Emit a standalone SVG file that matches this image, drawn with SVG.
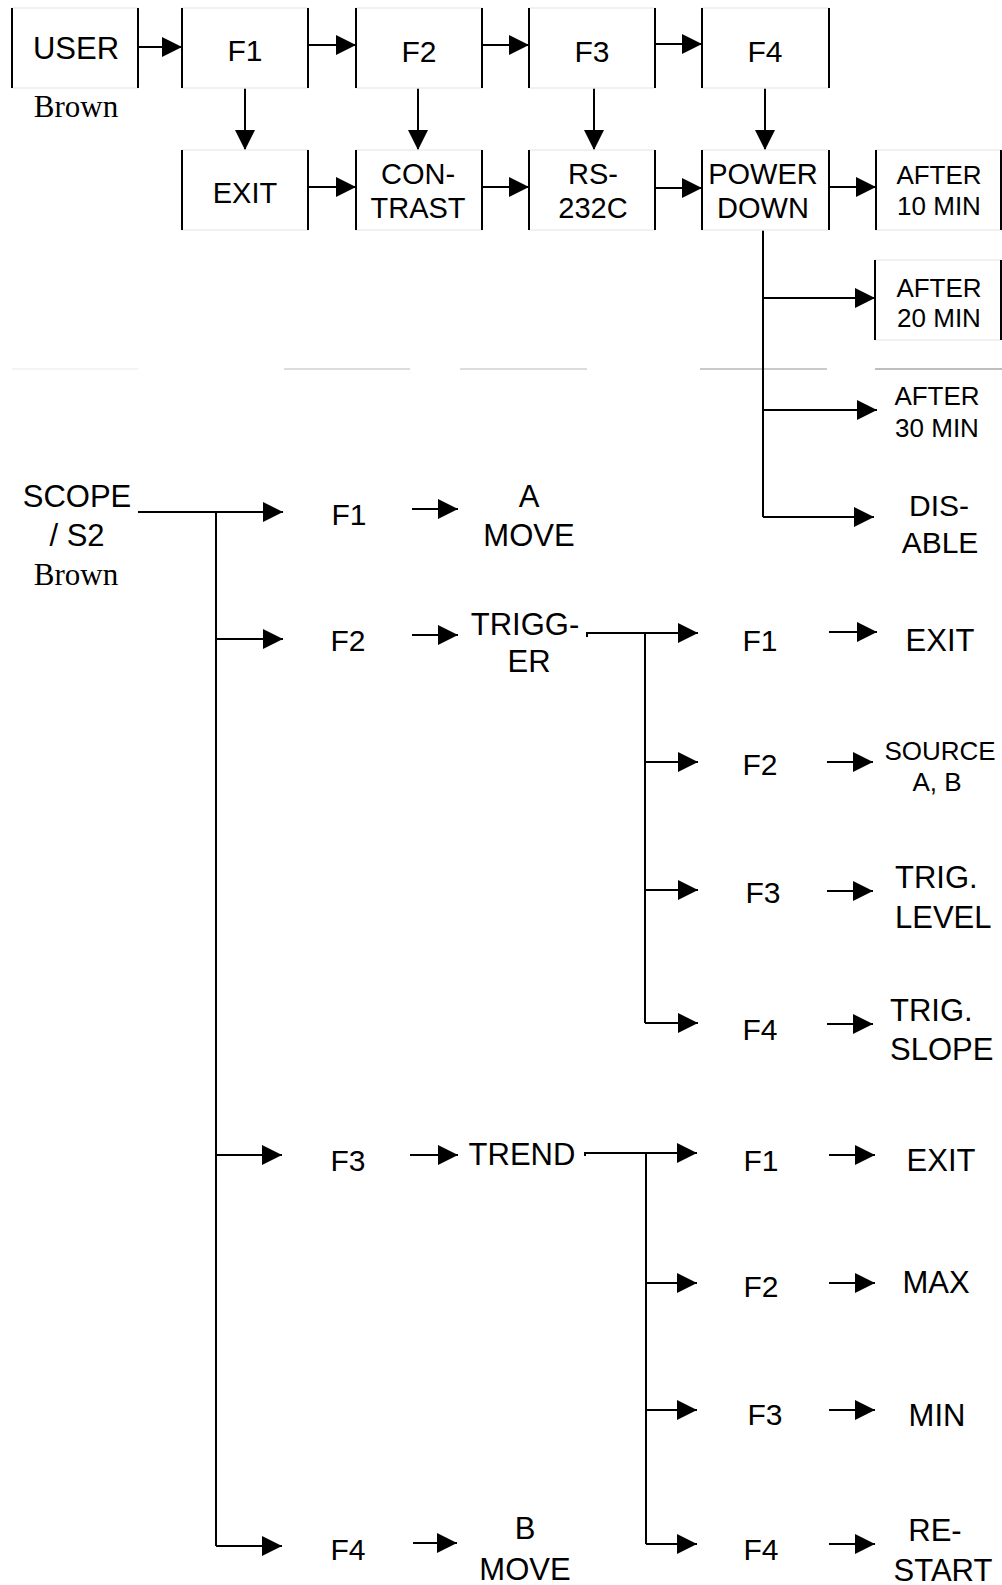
<svg xmlns="http://www.w3.org/2000/svg" width="1002" height="1585" viewBox="0 0 1002 1585">
<style>
.bg{fill:#fff}
.side{stroke:#000;stroke-width:2}
.edge{stroke:#ececec;stroke-width:1.5}
.gl{stroke:#d0d0d0;stroke-width:1.5}
.c{stroke:#000;stroke-width:2;fill:none}
.t{font-family:"Liberation Sans",Arial,sans-serif;text-anchor:middle;fill:#000}
.s{text-anchor:start}
.f30{font-size:30px}
.f29{font-size:29px}
.f31{font-size:31px}
.f26{font-size:26px}
.br{font-family:"Liberation Serif","Times New Roman",serif;font-size:31px;text-anchor:middle;fill:#000}
</style>
<defs>
<marker id="ah" markerUnits="userSpaceOnUse" markerWidth="20" markerHeight="20" refX="20" refY="10" orient="auto">
<path d="M0,0 L20,10 L0,20 z" fill="#000"/>
</marker>
</defs>
<rect class="bg" x="0" y="0" width="1002" height="1585"/>

<g id="grid-lines">
<line x1="12" y1="369" x2="138" y2="369" stroke="#f0f0f0" stroke-width="1.5"/>
<line class="gl" x1="284" y1="369" x2="410" y2="369"/>
<line class="gl" x1="460" y1="369" x2="587" y2="369"/>
<line x1="700" y1="369" x2="827" y2="369" stroke="#b8b8b8" stroke-width="1.5"/>
<line x1="875" y1="369" x2="1002" y2="369" stroke="#a8a8a8" stroke-width="1.5"/>
</g>

<g id="connectors">
<path class="c" marker-end="url(#ah)" d="M138,47 H182"/>
<path class="c" marker-end="url(#ah)" d="M308,45 H356"/>
<path class="c" marker-end="url(#ah)" d="M482,45 H529"/>
<path class="c" marker-end="url(#ah)" d="M655,44 H702"/>
<path class="c" marker-end="url(#ah)" d="M245,88 V150"/>
<path class="c" marker-end="url(#ah)" d="M418,88 V150"/>
<path class="c" marker-end="url(#ah)" d="M594,88 V150"/>
<path class="c" marker-end="url(#ah)" d="M765,88 V150"/>
<path class="c" marker-end="url(#ah)" d="M308,187 H356"/>
<path class="c" marker-end="url(#ah)" d="M482,187 H529"/>
<path class="c" marker-end="url(#ah)" d="M655,188 H702"/>
<path class="c" marker-end="url(#ah)" d="M829,187 H876"/>
<path class="c" d="M763,230 V517"/>
<path class="c" marker-end="url(#ah)" d="M763,298 H875"/>
<path class="c" marker-end="url(#ah)" d="M763,410 H877"/>
<path class="c" marker-end="url(#ah)" d="M763,517 H874"/>

<path class="c" marker-end="url(#ah)" d="M138,512 H283"/>
<path class="c" d="M216,512 V1546"/>
<path class="c" marker-end="url(#ah)" d="M216,639 H283"/>
<path class="c" marker-end="url(#ah)" d="M216,1155 H282"/>
<path class="c" marker-end="url(#ah)" d="M216,1546 H282"/>
<path class="c" marker-end="url(#ah)" d="M412,509 H458"/>
<path class="c" marker-end="url(#ah)" d="M412,635 H458"/>
<path class="c" marker-end="url(#ah)" d="M410,1155 H458"/>
<path class="c" marker-end="url(#ah)" d="M413,1543 H457"/>

<path class="c" marker-end="url(#ah)" d="M587,637 V633 H698"/>
<path class="c" d="M645,633 V1023"/>
<path class="c" marker-end="url(#ah)" d="M645,762 H698"/>
<path class="c" marker-end="url(#ah)" d="M645,890 H698"/>
<path class="c" marker-end="url(#ah)" d="M645,1023 H698"/>
<path class="c" marker-end="url(#ah)" d="M829,632 H877"/>
<path class="c" marker-end="url(#ah)" d="M827,762 H873"/>
<path class="c" marker-end="url(#ah)" d="M827,891 H873"/>
<path class="c" marker-end="url(#ah)" d="M827,1024 H873"/>

<path class="c" marker-end="url(#ah)" d="M585,1156 V1153 H697"/>
<path class="c" d="M646,1153 V1544"/>
<path class="c" marker-end="url(#ah)" d="M646,1283 H697"/>
<path class="c" marker-end="url(#ah)" d="M646,1410 H697"/>
<path class="c" marker-end="url(#ah)" d="M646,1544 H697"/>
<path class="c" marker-end="url(#ah)" d="M829,1155 H875"/>
<path class="c" marker-end="url(#ah)" d="M829,1283 H875"/>
<path class="c" marker-end="url(#ah)" d="M829,1410 H875"/>
<path class="c" marker-end="url(#ah)" d="M829,1544 H875"/>
</g>

<g id="user">
<line class="edge" x1="12" y1="8" x2="138" y2="8"/><line class="edge" x1="12" y1="88" x2="138" y2="88"/>
<line class="side" x1="12" y1="8" x2="12" y2="88"/><line class="side" x1="138" y1="8" x2="138" y2="88"/>
<text class="t f31" x="76" y="59">USER</text>
<text class="br" x="76" y="117">Brown</text>
</g>
<g id="top-f1">
<line class="edge" x1="182" y1="8" x2="308" y2="8"/><line class="edge" x1="182" y1="88" x2="308" y2="88"/>
<line class="side" x1="182" y1="8" x2="182" y2="88"/><line class="side" x1="308" y1="8" x2="308" y2="88"/>
<text class="t f30" x="245" y="61">F1</text>
</g>
<g id="top-f2">
<line class="edge" x1="356" y1="8" x2="482" y2="8"/><line class="edge" x1="356" y1="88" x2="482" y2="88"/>
<line class="side" x1="356" y1="8" x2="356" y2="88"/><line class="side" x1="482" y1="8" x2="482" y2="88"/>
<text class="t f30" x="419" y="62">F2</text>
</g>
<g id="top-f3">
<line class="edge" x1="529" y1="8" x2="655" y2="8"/><line class="edge" x1="529" y1="88" x2="655" y2="88"/>
<line class="side" x1="529" y1="8" x2="529" y2="88"/><line class="side" x1="655" y1="8" x2="655" y2="88"/>
<text class="t f30" x="592" y="62">F3</text>
</g>
<g id="top-f4">
<line class="edge" x1="702" y1="8" x2="829" y2="8"/><line class="edge" x1="702" y1="88" x2="829" y2="88"/>
<line class="side" x1="702" y1="8" x2="702" y2="88"/><line class="side" x1="829" y1="8" x2="829" y2="88"/>
<text class="t f30" x="765" y="62">F4</text>
</g>
<g id="exit-box">
<line class="edge" x1="182" y1="150" x2="308" y2="150"/><line class="edge" x1="182" y1="230" x2="308" y2="230"/>
<line class="side" x1="182" y1="150" x2="182" y2="230"/><line class="side" x1="308" y1="150" x2="308" y2="230"/>
<text class="t f29" x="245" y="203">EXIT</text>
</g>
<g id="contrast">
<line class="edge" x1="356" y1="150" x2="482" y2="150"/><line class="edge" x1="356" y1="230" x2="482" y2="230"/>
<line class="side" x1="356" y1="150" x2="356" y2="230"/><line class="side" x1="482" y1="150" x2="482" y2="230"/>
<text class="t f29" x="418" y="184">CON-</text>
<text class="t f29" x="418" y="218">TRAST</text>
</g>
<g id="rs232c">
<line class="edge" x1="529" y1="150" x2="655" y2="150"/><line class="edge" x1="529" y1="230" x2="655" y2="230"/>
<line class="side" x1="529" y1="150" x2="529" y2="230"/><line class="side" x1="655" y1="150" x2="655" y2="230"/>
<text class="t f29" x="593" y="184">RS-</text>
<text class="t f29" x="593" y="218">232C</text>
</g>
<g id="power-down">
<line class="edge" x1="702" y1="150" x2="829" y2="150"/><line class="edge" x1="702" y1="230" x2="829" y2="230"/>
<line class="side" x1="702" y1="150" x2="702" y2="230"/><line class="side" x1="829" y1="150" x2="829" y2="230"/>
<text class="t f29" x="763" y="184">POWER</text>
<text class="t f29" x="763" y="218">DOWN</text>
</g>
<g id="after10">
<line class="edge" x1="876" y1="150" x2="1001" y2="150"/><line class="edge" x1="876" y1="230" x2="1001" y2="230"/>
<line class="side" x1="876" y1="150" x2="876" y2="230"/><line class="side" x1="1001" y1="150" x2="1001" y2="230"/>
<text class="t f26" x="939" y="184">AFTER</text>
<text class="t f26" x="939" y="215">10 MIN</text>
</g>
<g id="after20">
<line class="edge" x1="875" y1="260" x2="1001" y2="260"/><line class="edge" x1="875" y1="340" x2="1001" y2="340"/>
<line class="side" x1="875" y1="260" x2="875" y2="340"/><line class="side" x1="1001" y1="260" x2="1001" y2="340"/>
<text class="t f26" x="939" y="297">AFTER</text>
<text class="t f26" x="939" y="327">20 MIN</text>
</g>
<g id="after30">
<text class="t f26" x="937" y="405">AFTER</text>
<text class="t f26" x="937" y="437">30 MIN</text>
</g>
<g id="disable">
<text class="t f30" x="939" y="516">DIS-</text>
<text class="t f30" x="940" y="553">ABLE</text>
</g>

<g id="scope">
<text class="t f31" x="77" y="507">SCOPE</text>
<text class="t f31" x="77" y="546">/ S2</text>
<text class="br" x="76" y="585">Brown</text>
</g>
<g id="s-f1"><text class="t f30" x="349" y="525">F1</text></g>
<g id="a-move"><text class="t f31" x="529" y="507">A</text><text class="t f31" x="529" y="546">MOVE</text></g>
<g id="s-f2"><text class="t f30" x="348" y="651">F2</text></g>
<g id="trigger"><text class="t f31" x="525" y="635">TRIGG-</text><text class="t f31" x="529" y="672">ER</text></g>
<g id="s-f3"><text class="t f30" x="348" y="1171">F3</text></g>
<g id="trend"><text class="t f31" x="522" y="1165">TREND</text></g>
<g id="s-f4"><text class="t f30" x="348" y="1560">F4</text></g>
<g id="b-move"><text class="t f31" x="525" y="1539">B</text><text class="t f31" x="525" y="1580">MOVE</text></g>

<g id="tr-f1"><text class="t f30" x="760" y="651">F1</text></g>
<g id="tr-exit"><text class="t f31" x="940" y="651">EXIT</text></g>
<g id="tr-f2"><text class="t f30" x="760" y="775">F2</text></g>
<g id="source"><text class="t f26" x="940" y="760">SOURCE</text><text class="t f26" x="937" y="791">A, B</text></g>
<g id="tr-f3"><text class="t f30" x="763" y="903">F3</text></g>
<g id="trig-level"><text class="t s f31" x="895" y="888">TRIG.</text><text class="t s f31" x="895" y="928">LEVEL</text></g>
<g id="tr-f4"><text class="t f30" x="760" y="1040">F4</text></g>
<g id="trig-slope"><text class="t s f31" x="890" y="1021">TRIG.</text><text class="t s f31" x="890" y="1060">SLOPE</text></g>

<g id="tn-f1"><text class="t f30" x="761" y="1171">F1</text></g>
<g id="tn-exit"><text class="t f31" x="941" y="1171">EXIT</text></g>
<g id="tn-f2"><text class="t f30" x="761" y="1297">F2</text></g>
<g id="max"><text class="t f31" x="936" y="1293">MAX</text></g>
<g id="tn-f3"><text class="t f30" x="765" y="1425">F3</text></g>
<g id="min"><text class="t f31" x="937" y="1426">MIN</text></g>
<g id="tn-f4"><text class="t f30" x="761" y="1560">F4</text></g>
<g id="restart"><text class="t f31" x="935" y="1541">RE-</text><text class="t f31" x="943" y="1581">START</text></g>
</svg>
